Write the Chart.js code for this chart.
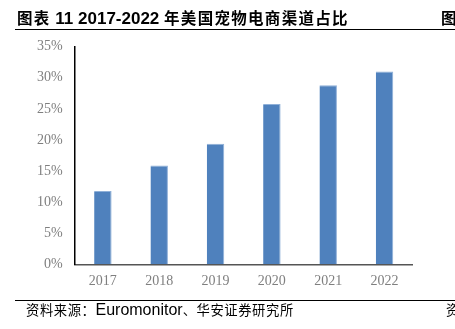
<!DOCTYPE html>
<html>
<head>
<meta charset="utf-8">
<script src="https://cdn.jsdelivr.net/npm/chart.js@4"></script>
<style>
  html, body { margin: 0; padding: 0; background: #fff; }
  body { width: 455px; height: 329px; position: relative; overflow: hidden; }
  .cjk { font-family: "Noto Sans CJK SC", sans-serif; }
  .lat { font-family: "Liberation Sans", sans-serif; }
  #title {
    position: absolute; left: 17px; top: 5px; line-height: 24px;
    font-weight: bold; color: #000; white-space: nowrap;
  }
  #title .cjk { font-size: 15.5px; letter-spacing: 1.3px; }
  #title .lat { font-size: 17px; }
  #title-right { position: absolute; left: 441px; top: 5px; line-height: 24px; font-weight: bold; font-size: 15.5px; }
  .rule { position: absolute; left: 15px; right: 0; height: 1px; background: #000; }
  #source {
    position: absolute; left: 26px; top: 300px; line-height: 20px;
    color: #000; white-space: nowrap;
  }
  #source .cjk { font-size: 13.3px; letter-spacing: 0.6px; }
  #source .lat { font-size: 16px; }
  #source-right { position: absolute; left: 446px; top: 300px; line-height: 20px; font-size: 13.3px; }
  #wrap { position: absolute; left: 0; top: 0; width: 455px; height: 329px; }
</style>
</head>
<body>
<div id="wrap"><canvas id="myGraph"></canvas></div>
<div id="title"><span class="cjk">图表</span><span class="lat"> 11 2017-2022 </span><span class="cjk">年美国宠物电商渠道占比</span></div>
<div id="title-right" class="cjk">图</div>
<div class="rule" style="top:29px"></div>
<div class="rule" style="top:300px"></div>
<div id="source"><span class="cjk">资料来源：</span><span class="lat">Euromonitor</span><span class="cjk">、华安证券研究所</span></div>
<div id="source-right" class="cjk">资</div>
<script>
/* DATOS DEL GRAFICO */
const years = ["2017", "2018", "2019", "2020", "2021", "2022"];
const shares = [11.8, 15.9, 19.4, 25.8, 28.8, 31.0];
const yTicks = [0, 5, 10, 15, 20, 25, 30, 35];

const tickFont = { family: "Liberation Serif", size: 14 };

const config = {
  type: "bar",
  data: {
    labels: years,
    datasets: [{
      data: shares,
      backgroundColor: "#4f81bd",
      borderColor: "#8fb0d8",
      borderWidth: { left: 0, right: 1, top: 1, bottom: 0 },
      barPercentage: 0.31,
      categoryPercentage: 1
    }]
  },
  options: {
    responsive: false,
    animation: false,
    layout: { padding: { left: 0, top: 46.7, right: 42.3, bottom: 0 } },
    plugins: { legend: { display: false }, tooltip: { enabled: false } },
    scales: {
      x: {
        grid: { display: false, drawTicks: false },
        border: { color: "#555", width: 1.5 },
        ticks: { color: "#7f7f7f", font: tickFont, padding: 9 },
        afterFit: (scale) => { scale.height = 64.7; }
      },
      y: {
        min: 0,
        max: 35,
        afterBuildTicks: (scale) => { scale.ticks = yTicks.map((v) => ({ value: v })); },
        grid: { display: false, drawTicks: false },
        border: { color: "#000", width: 1.5 },
        ticks: { color: "#7f7f7f", font: tickFont, padding: 12, callback: (v) => v + "%" },
        afterFit: (scale) => { scale.width = 74.7; }
      }
    }
  }
};

const canvas = document.getElementById("myGraph");
canvas.width = 455;
canvas.height = 329;
new Chart(canvas, config);
</script>
</body>
</html>
